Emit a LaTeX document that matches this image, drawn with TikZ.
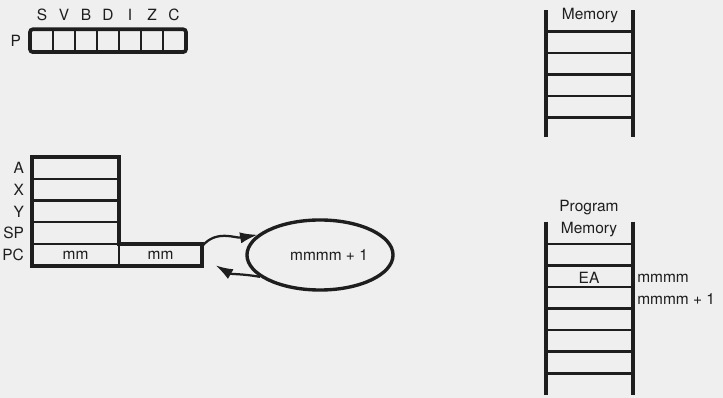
\documentclass[tikz,border=0pt]{standalone}
\usepackage{fontspec}
\setmainfont{TeX Gyre Heros}
\usetikzlibrary{positioning, arrows.meta, shapes.geometric}
\definecolor{paperGray}{HTML}{EFEFEF}
\definecolor{inkDark}{HTML}{1E1E1E}
\tikzset{
  txt/.style={font=\fontsize{11}{13}\selectfont, text=inkDark, inner sep=0pt},
  flagcell/.style={rectangle, draw=inkDark, line width=1.4pt,
    minimum width=0.55cm, minimum height=0.52cm, inner sep=0pt},
  regcell/.style={rectangle, draw=inkDark, line width=1.6pt,
    minimum width=2.17cm, minimum height=0.543cm, inner sep=0pt, outer sep=0pt,
    font=\fontsize{11}{13}\selectfont, text=inkDark},
  frameline/.style={draw=inkDark, line width=2.6pt},
  rail/.style={inkDark, line width=2.8pt},
  rung/.style={inkDark, line width=1.8pt},
  arrowline/.style={-{Latex[length=4.4mm,width=2.8mm]}, line width=1.6pt, draw=inkDark},
}
\begin{document}
\begin{tikzpicture}[x=0.025cm, y=-0.025cm]
    \fill[paperGray] (0,0) rectangle (723,398);
    % ---------------- status register P ----------------
    \foreach \f [count=\i] in {S,V,B,D,I,Z,C} {
      \node[flagcell] (flag\i) at ({20+22*\i},40.7) {};
      \node[txt] (flagname\i) at ({20+22*\i},15) {\f};
    }
    \draw[frameline, rounded corners=2pt] (flag1.north west) rectangle (flag7.south east);
    \node[txt, left=2.2mm of flag1] (pname) {P};
    % ---------------- register stack ----------------
    \node[regcell] (rA) at (75.6,168) {};
    \node[regcell, below=0pt of rA] (rX) {};
    \node[regcell, below=0pt of rX] (rY) {};
    \node[regcell, below=0pt of rY] (rSP) {};
    \node[regcell, below=0pt of rSP] (pclo) {mm};
    \node[regcell, right=0pt of pclo, minimum width=2.08cm] (pchi) {mm};
    \draw[frameline] (rA.north west) -- (rA.north east) -- (pchi.north west)
      -- (pchi.north east) -- (pchi.south east) -- (pclo.south west) -- cycle;
    \foreach \r/\t in {rA/A, rX/X, rY/Y, rSP/SP, pclo/PC}
      \node[txt, left=2mm of \r] (\r name) {\t};
    % ---------------- incremented address ----------------
    \node[ellipse, draw=inkDark, line width=2.4pt, minimum width=3.65cm,
          minimum height=1.75cm, inner sep=0pt, txt] (incr) at (320,255)
          {\hspace*{0.45cm}mmmm + 1};
    \draw[arrowline] (pchi.12) to[out=50, in=190] (incr.162);
    \draw[arrowline] (incr.200) to[out=170, in=-30] ([xshift=3.3mm]pchi.-14);
    % ---------------- data memory ----------------
    \draw[rail] (546,10) -- (546,136.7);
    \draw[rail] (632.7,10) -- (632.7,136.7);
    \foreach \k in {0,...,4}
      \draw[rung] (546,{31.7+21.4*\k}) -- (632.7,{31.7+21.4*\k});
    \node[txt] (memname) at (590,16) {Memory};
    % ---------------- program memory ----------------
    \draw[rail] (546,221.7) -- (546,395);
    \draw[rail] (632.7,221.7) -- (632.7,395);
    \foreach \k in {0,...,6}
      \draw[rung] (546,{244+21.55*\k}) -- (632.7,{244+21.55*\k});
    \node[txt] (progname) at (589,207.5) {Program};
    \node[txt] (progmem) at (589,230) {Memory};
    \node[txt] (ea) at (589,278) {EA};
    \node[txt, anchor=west] (addr) at (637,278) {mmmm};
    \node[txt, anchor=west] (addrnext) at (637,299.5) {mmmm + 1};
\end{tikzpicture}
\end{document}
